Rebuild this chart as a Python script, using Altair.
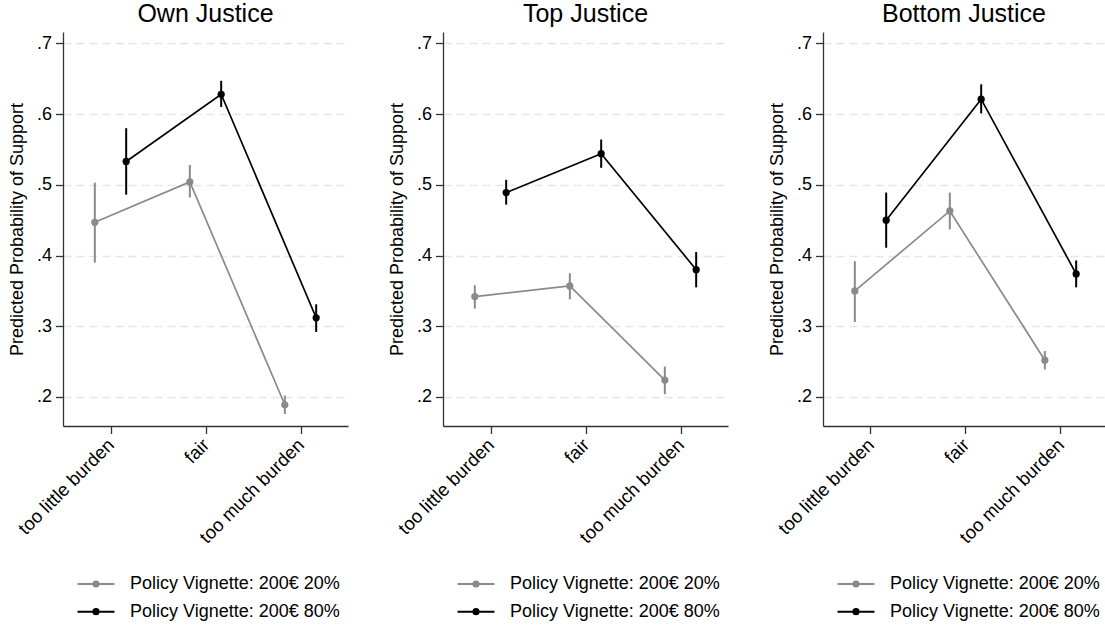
import altair as alt
import pandas as pd

# Category labels, panels and series
categories = ["too little burden", "fair", "too much burden"]
panels = ["Own Justice", "Top Justice", "Bottom Justice"]
series = ["Policy Vignette: 200€ 20%", "Policy Vignette: 200€ 80%"]
series_colors = ["#8a8a8a", "#000000"]

# Predicted probabilities with 95% confidence bounds, one list per panel and series
own_20 = [0.447, 0.504, 0.189]
own_20_lo = [0.390, 0.482, 0.176]
own_20_hi = [0.503, 0.528, 0.202]
own_80 = [0.533, 0.628, 0.312]
own_80_lo = [0.486, 0.610, 0.292]
own_80_hi = [0.580, 0.647, 0.331]

top_20 = [0.342, 0.357, 0.224]
top_20_lo = [0.325, 0.338, 0.204]
top_20_hi = [0.358, 0.375, 0.243]
top_80 = [0.489, 0.544, 0.380]
top_80_lo = [0.472, 0.524, 0.355]
top_80_hi = [0.507, 0.564, 0.405]

bottom_20 = [0.350, 0.463, 0.252]
bottom_20_lo = [0.306, 0.437, 0.239]
bottom_20_hi = [0.392, 0.489, 0.265]
bottom_80 = [0.450, 0.621, 0.374]
bottom_80_lo = [0.411, 0.601, 0.355]
bottom_80_hi = [0.489, 0.642, 0.393]

y_ticks = [0.2, 0.3, 0.4, 0.5, 0.6, 0.7]

panel_values = {
    "Own Justice": [(own_20, own_20_lo, own_20_hi), (own_80, own_80_lo, own_80_hi)],
    "Top Justice": [(top_20, top_20_lo, top_20_hi), (top_80, top_80_lo, top_80_hi)],
    "Bottom Justice": [
        (bottom_20, bottom_20_lo, bottom_20_hi),
        (bottom_80, bottom_80_lo, bottom_80_hi),
    ],
}

FONT = "Liberation Sans"

# Legend symbol: a short line with a solid dot (two rings) in the middle
LEGEND_SYMBOL = (
    "M-3.7,0L3.7,0"
    "M0.52,0A0.52,0.52,0,1,1,-0.52,0A0.52,0.52,0,1,1,0.52,0Z"
    "M0.24,0A0.24,0.24,0,1,1,-0.24,0A0.24,0.24,0,1,1,0.24,0Z"
)


def panel_frame(name):
    rows = []
    for s, (vals, lo, hi) in zip(series, panel_values[name]):
        for i, cat in enumerate(categories):
            rows.append(
                {"series": s, "cat_index": i + 1, "category": cat,
                 "value": vals[i], "lo": lo[i], "hi": hi[i]}
            )
    return pd.DataFrame(rows)


def make_panel(name, width, x_max):
    df = panel_frame(name)
    base = alt.Chart(df).transform_calculate(
        xpos=f"datum.cat_index + (datum.series === '{series[0]}' ? -0.165 : 0.165)"
    )
    x_enc = alt.X(
        "xpos:Q",
        scale=alt.Scale(domain=[0.5, x_max], nice=False, zero=False),
        axis=alt.Axis(
            values=[1, 2, 3],
            labelExpr="datum.value == 1 ? 'too little burden' : datum.value == 2 ? 'fair' : 'too much burden'",
            labelAngle=315,
            labelAlign="right",
            labelBaseline="middle",
            labelFontSize=18.5,
            labelPadding=8,
            labelOverlap=False,
            labelLimit=0,
            tickSize=7.5,
            title=None,
            grid=False,
        ),
    )
    y_scale = alt.Scale(domain=[0.159, 0.716], nice=False, zero=False)
    y_enc = alt.Y(
        "value:Q",
        scale=y_scale,
        axis=alt.Axis(
            values=y_ticks,
            labelExpr="slice(format(datum.value, '.1f'), 1)",
            labelFontSize=18,
            labelPadding=4,
            tickSize=7.5,
            title="Predicted Probability of Support",
            titleFontSize=18,
            titleFontWeight="normal",
            titlePadding=10,
            grid=True,
            gridDash=[8, 5],
            gridColor="#e6e6e6",
            gridWidth=1.5,
        ),
    )
    color_scale = alt.Scale(domain=series, range=series_colors)
    legend = alt.Legend(
        orient="none",
        legendX=24,
        legendY=543,
        title=None,
        symbolType=LEGEND_SYMBOL,
        symbolSize=100,
        symbolStrokeWidth=2,
        labelFontSize=18,
        labelOffset=25,
        labelLimit=0,
        rowPadding=9.7,
        labelColor="#000000",
    )
    color_enc = alt.Color("series:N", scale=color_scale, legend=legend)

    lines = base.mark_line(strokeWidth=1.7).encode(
        x=x_enc,
        y=y_enc,
        color=color_enc,
    )
    errbars = base.mark_rule(strokeWidth=2).encode(
        x=x_enc,
        y=alt.Y("lo:Q", scale=y_scale),
        y2="hi:Q",
        color=color_enc,
    )
    points = base.mark_point(filled=True, size=52, opacity=1).encode(
        x=x_enc,
        y="value:Q",
        color=color_enc,
    )
    return alt.layer(lines, errbars, points).properties(
        width=width,
        height=394,
        title=alt.TitleParams(
            name, fontSize=25, fontWeight="normal", font=FONT,
            frame="group", anchor="middle", offset=5,
        ),
    )


chart = alt.hconcat(
    make_panel("Own Justice", 285, 3.5),
    make_panel("Top Justice", 285, 3.5),
    make_panel("Bottom Justice", 282, 3.5 - 3 / 95.3),
    spacing=95,
    bounds="flush",
).resolve_scale(
    x="independent", y="independent", color="independent",
).resolve_legend(
    color="independent",
).properties(
    padding={"left": 8, "top": 2, "right": 0, "bottom": 0},
    background="white",
).configure_view(
    stroke=None
).configure_axis(
    labelFont=FONT,
    titleFont=FONT,
    labelColor="#000000",
    titleColor="#000000",
    domainColor="#333333",
    tickColor="#333333",
    domainWidth=1.3,
    tickWidth=1.3,
).configure_legend(
    labelFont=FONT,
)

chart.save("out.html", embed_options={"renderer": "svg", "actions": False})
